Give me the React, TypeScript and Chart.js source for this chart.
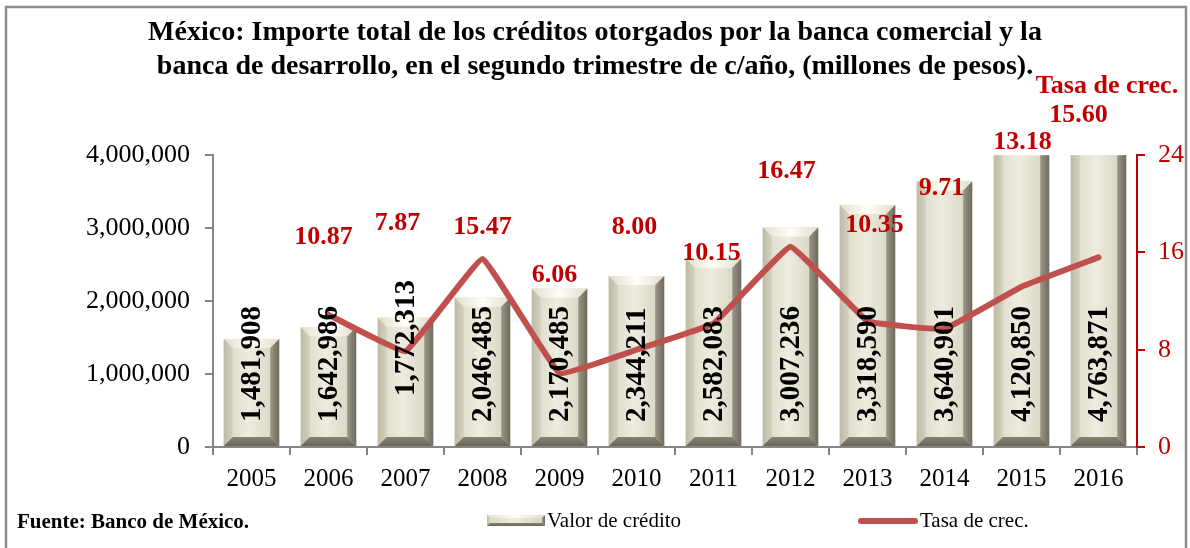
import React, { useEffect, useRef } from "react";
import { Chart, registerables } from "chart.js";

Chart.register(...registerables);

const FONT = "'Liberation Serif', 'Times New Roman', serif";

// ---- data ----
const years = ["2005", "2006", "2007", "2008", "2009", "2010", "2011", "2012", "2013", "2014", "2015", "2016"];
const creditValues = [1481908, 1642986, 1772313, 2046485, 2170485, 2344211, 2582083, 3007236, 3318590, 3640901, 4120850, 4763871];
const growthRates = [null, 10.87, 7.87, 15.47, 6.06, 8.0, 10.15, 16.47, 10.35, 9.71, 13.18, 15.6];
const leftTickRange = [0, 4000000, 1000000];
const rightTickRange = [0, 24, 8];
const titleLines = [
  "México: Importe total de los créditos otorgados por la banca comercial y la",
  "banca de desarrollo, en el segundo trimestre de c/año, (millones de pesos).",
];
const seriesNames = ["Valor de crédito", "Tasa de crec."];
const rightAxisTitle = "Tasa de crec.";
const sourceNote = "Fuente: Banco de México.";

// label placement (pixel offsets of the moved data labels)
const growthLabelDx = [0, -5, -8, 0, -5, -2, -2, -4, 7, -3, 1, -20];
const growthLabelDy = [0, -78, -128, -32, -98, -122, -70, -75, -96, -141, -144, -142];
const barLabelLift = [24, 24, 50, 24, 24, 24, 24, 24, 24, 24, 24, 24];

const fmt = (v: number) => v.toLocaleString("en-US");

function poly(ctx: CanvasRenderingContext2D, pts: number[][], fill: any) {
  ctx.beginPath();
  ctx.moveTo(pts[0][0], pts[0][1]);
  for (let i = 1; i < pts.length; i++) ctx.lineTo(pts[i][0], pts[i][1]);
  ctx.closePath();
  ctx.fillStyle = fill;
  ctx.fill();
}

function drawBevelBar(ctx: CanvasRenderingContext2D, l: number, t: number, r: number, bot: number, b: number) {
  const w = r - l;
  const face = ctx.createLinearGradient(l, 0, r, 0);
  face.addColorStop(0, "#D9D6C4");
  face.addColorStop(0.45, "#EEECDF");
  face.addColorStop(1, "#D3D0BE");
  ctx.fillStyle = face;
  ctx.fillRect(l, t, w, bot - t);
  const top = ctx.createLinearGradient(l, 0, r, 0);
  top.addColorStop(0, "#E2DFCD");
  top.addColorStop(0.5, "#FFFFF8");
  top.addColorStop(1, "#E0DDCB");
  poly(ctx, [[l, t], [r, t], [r - b, t + b], [l + b, t + b]], top);
  const left = ctx.createLinearGradient(l, 0, l + b, 0);
  left.addColorStop(0, "#BDBAA7");
  left.addColorStop(1, "#D4D1BF");
  poly(ctx, [[l, t], [l + b, t + b], [l + b, bot - b], [l, bot]], left);
  const right = ctx.createLinearGradient(r - b, 0, r, 0);
  right.addColorStop(0, "#9A9787");
  right.addColorStop(1, "#6E6B5E");
  poly(ctx, [[r, t], [r, bot], [r - b, bot - b], [r - b, t + b]], right);
  const bottom = ctx.createLinearGradient(0, bot - b, 0, bot);
  bottom.addColorStop(0, "#85826F");
  bottom.addColorStop(1, "#6A675A");
  poly(ctx, [[l, bot], [r, bot], [r - b, bot - b], [l + b, bot - b]], bottom);
}

const decorPlugin = {
  id: "decor",
  beforeDraw(chart: any) {
    const { ctx, width, height } = chart;
    ctx.save();
    ctx.fillStyle = "#FFFFFF";
    ctx.fillRect(0, 0, width, height);
    ctx.strokeStyle = "#8C8C8C";
    ctx.lineWidth = 2.5;
    ctx.beginPath();
    ctx.moveTo(6, height + 2);
    ctx.lineTo(6, 7);
    ctx.lineTo(1186, 7);
    ctx.lineTo(1186, height + 2);
    ctx.stroke();
    ctx.restore();
  },
  afterDatasetDraw(chart: any, args: any) {
    if (args.meta.type !== "bar") return;
    const { ctx, chartArea } = chart;
    ctx.save();
    ctx.beginPath();
    ctx.rect(chartArea.left, chartArea.top, chartArea.right - chartArea.left, chartArea.bottom - chartArea.top);
    ctx.clip();
    args.meta.data.forEach((el: any) => {
      const l = el.x - el.width / 2;
      const r = el.x + el.width / 2;
      drawBevelBar(ctx, l, el.y, r, el.base, 9);
    });
    ctx.restore();
  },
  afterDraw(chart: any) {
    const { ctx } = chart;
    ctx.save();
    // bar value labels (rotated)
    const barMeta = chart.getDatasetMeta(1);
    ctx.fillStyle = "#000000";
    ctx.font = `bold 29px ${FONT}`;
    ctx.textAlign = "left";
    ctx.textBaseline = "middle";
    barMeta.data.forEach((el: any, i: number) => {
      ctx.save();
      ctx.translate(el.x, el.base - barLabelLift[i]);
      ctx.rotate(-Math.PI / 2);
      ctx.fillText(fmt(creditValues[i]), 0, 1);
      ctx.restore();
    });
    // growth labels
    const lineMeta = chart.getDatasetMeta(0);
    ctx.fillStyle = "#C00000";
    ctx.font = `bold 26px ${FONT}`;
    ctx.textAlign = "center";
    ctx.textBaseline = "middle";
    lineMeta.data.forEach((el: any, i: number) => {
      const v = growthRates[i];
      if (v === null) return;
      ctx.fillText(v.toFixed(2), el.x + growthLabelDx[i], el.y + growthLabelDy[i]);
    });
    // right axis title
    ctx.fillText(rightAxisTitle, 1107, 86);
    // legend
    const lx = 487, ly = 515;
    drawBevelBar(ctx, lx, ly, lx + 58, ly + 11, 3);
    ctx.fillStyle = "#000000";
    ctx.font = `21px ${FONT}`;
    ctx.textAlign = "left";
    ctx.fillText(seriesNames[0], 547, 521);
    ctx.strokeStyle = "#C0504D";
    ctx.lineWidth = 6;
    ctx.lineCap = "round";
    ctx.beginPath();
    ctx.moveTo(861, 521);
    ctx.lineTo(915, 521);
    ctx.stroke();
    ctx.fillText(seriesNames[1], 920, 521);
    // source
    ctx.font = `bold 21px ${FONT}`;
    ctx.fillText(sourceNote, 17, 523);
    ctx.restore();
  },
};

export default function App() {
  const ref = useRef<HTMLCanvasElement | null>(null);
  useEffect(() => {
    if (!ref.current) return;
    const chart = new Chart(ref.current, {
      type: "bar",
      data: {
        labels: years,
        datasets: [
          {
            type: "line",
            label: seriesNames[1],
            data: growthRates,
            yAxisID: "y1",
            borderColor: "#C0504D",
            borderWidth: 6,
            pointRadius: 0,
            tension: 0.07,
            borderCapStyle: "round",
            borderJoinStyle: "round",
            order: 0,
          } as any,
          {
            type: "bar",
            label: seriesNames[0],
            data: creditValues,
            yAxisID: "y",
            backgroundColor: "#E6E3D2",
            barPercentage: 0.72,
            categoryPercentage: 1,
            order: 1,
          },
        ],
      },
      options: {
        responsive: false,
        animation: false,
        devicePixelRatio: 1,
        layout: { padding: { top: 0, left: 0, right: 0, bottom: 53 } },
        plugins: {
          legend: { display: false },
          tooltip: { enabled: false },
          title: {
            display: true,
            text: titleLines,
            color: "#000000",
            font: { family: FONT, size: 28, weight: "bold", lineHeight: 1.2 },
            padding: { top: 16, bottom: 72 },
          },
        },
        scales: {
          x: {
            grid: { display: true, drawOnChartArea: false, drawTicks: true, tickLength: 8, color: "#868686", lineWidth: 2, offset: true },
            border: { display: true, color: "#868686", width: 2 },
            ticks: { color: "#000000", font: { family: FONT, size: 25 }, padding: 9, maxRotation: 0 },
            afterFit: (s: any) => { s.height = 48; },
          },
          y: {
            position: "left",
            min: leftTickRange[0],
            max: leftTickRange[1],
            grid: { display: true, drawOnChartArea: false, drawTicks: true, tickLength: 8, color: "#868686", lineWidth: 2 },
            border: { display: true, color: "#868686", width: 2 },
            ticks: { stepSize: leftTickRange[2], color: "#000000", font: { family: FONT, size: 26 }, padding: 15, callback: (v: any) => fmt(Number(v)) },
            afterFit: (s: any) => { s.width = 213; },
          },
          y1: {
            position: "right",
            min: rightTickRange[0],
            max: rightTickRange[1],
            grid: { display: true, drawOnChartArea: false, drawTicks: true, tickLength: 8, color: "#C00000", lineWidth: 2 },
            border: { display: true, color: "#C00000", width: 2 },
            ticks: { stepSize: rightTickRange[2], color: "#C00000", font: { family: FONT, size: 26 }, padding: 13 },
            afterFit: (s: any) => { s.width = 53; },
          },
        },
      },
      plugins: [decorPlugin],
    });
    return () => chart.destroy();
  }, []);
  return (
    <div style={{ position: "fixed", left: 0, top: 0, width: 1190, height: 548 }}>
      <canvas ref={ref} width={1190} height={548} style={{ width: 1190, height: 548, display: "block" }} />
    </div>
  );
}
